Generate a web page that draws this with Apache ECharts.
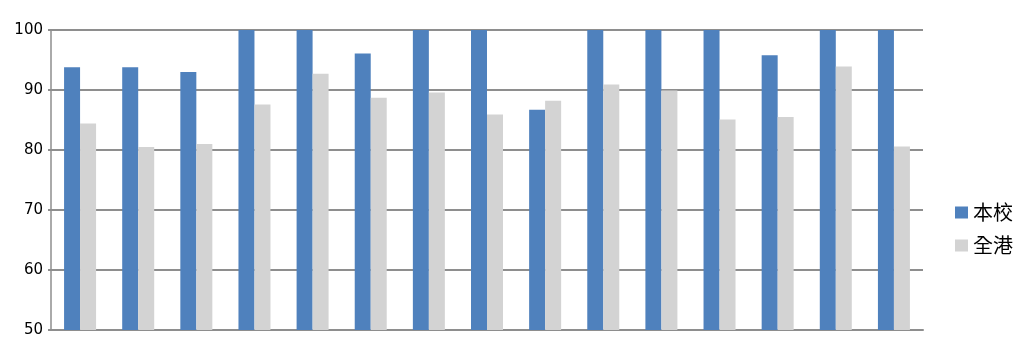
<!DOCTYPE html>
<html>
<head>
<meta charset="utf-8">
<script src="https://cdn.jsdelivr.net/npm/echarts@6/dist/echarts.min.js"></script>
<style>html,body{margin:0;padding:0;background:#fff}#c{width:1025px;height:340px}</style>
</head>
<body>
<div id="c"></div>
<script>
var categories = ['1','2','3','4','5','6','7','8','9','10','11','12','13','14','15'];
var schoolValues = [93.8, 93.8, 93.0, 100, 100, 96.1, 100, 100, 86.7, 100, 100, 100, 95.8, 100, 100];
var hkValues = [84.4, 80.5, 81.0, 87.6, 92.7, 88.7, 89.6, 85.9, 88.2, 90.9, 89.9, 85.1, 85.5, 93.9, 80.6];
var seriesNames = ['本校', '全港'];
var yTicks = [50, 60, 70, 80, 90, 100];

var chart = echarts.init(document.getElementById('c'));
chart.setOption({
  animation: false,
  grid: {left: 51, right: 102, top: 30, bottom: 10},
  legend: {
    orient: 'vertical',
    left: 950,
    top: 197,
    itemWidth: 13,
    itemHeight: 12,
    itemGap: 12,
    icon: 'rect',
    textStyle: {fontSize: 20, color: '#000', fontFamily: 'Noto Sans CJK TC', lineHeight: 21},
    data: seriesNames
  },
  xAxis: {
    type: 'category',
    data: categories,
    axisLine: {lineStyle: {color: '#8E8E8E', width: 2}},
    axisTick: {show: false},
    axisLabel: {show: false}
  },
  yAxis: {
    type: 'value',
    min: yTicks[0],
    max: yTicks[yTicks.length - 1],
    interval: 10,
    axisLine: {show: true, lineStyle: {color: '#8E8E8E', width: 1.5}},
    axisTick: {show: true, length: 3, lineStyle: {color: '#8E8E8E', width: 2}},
    axisLabel: {fontSize: 15, color: '#000', fontFamily: 'DejaVu Sans', margin: 8},
    splitLine: {lineStyle: {color: '#8E8E8E', width: 2}}
  },
  series: [
    {name: seriesNames[0], type: 'bar', data: schoolValues, barWidth: 16, barGap: '0%', itemStyle: {color: '#4F81BD'}},
    {name: seriesNames[1], type: 'bar', data: hkValues, barWidth: 16, barGap: '0%', itemStyle: {color: '#D3D3D3'}}
  ]
});
</script>
</body>
</html>
